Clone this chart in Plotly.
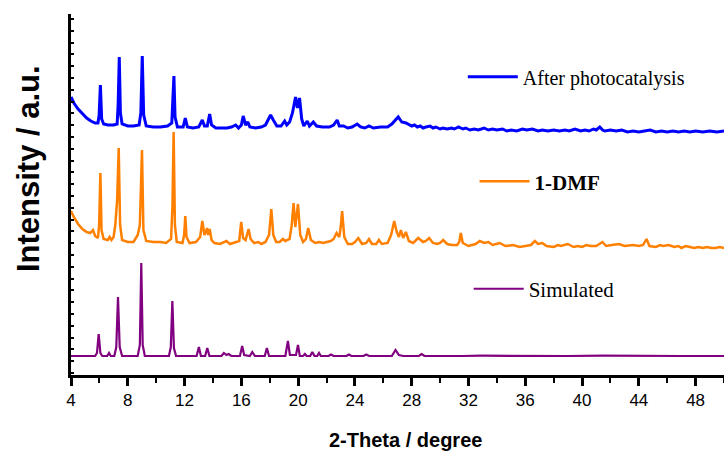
import plotly.graph_objects as go

# 2-theta (degree) / intensity (a.u., stacked) for each powder pattern
after_tt = [4.00, 4.2, 4.5, 4.8, 5.1, 5.4, 5.7, 5.9, 5.98, 6.07, 6.16, 6.3, 6.6, 7.0, 7.25, 7.32, 7.40, 7.48,
            7.6, 8.0, 8.4, 8.8, 8.92, 9.02, 9.12, 9.3, 9.8, 10.3, 10.8, 11.1, 11.17, 11.25, 11.33, 11.5,
            11.9, 12.05, 12.2, 12.6, 13.0, 13.25, 13.4, 13.6, 13.77, 13.9, 14.2, 14.6, 15.0, 15.3, 15.6,
            15.8, 16.0, 16.13, 16.3, 16.46, 16.6, 17.0, 17.4, 17.7, 17.9, 18.06, 18.25, 18.5, 18.8, 19.05,
            19.2, 19.4, 19.6, 19.82, 19.95, 20.1, 20.25, 20.4, 20.64, 20.8, 21.07, 21.3, 21.7, 22.2, 22.5,
            22.75, 22.9, 23.2, 23.5, 23.8, 24.16, 24.4, 24.7, 24.99, 25.3, 25.8, 26.3, 26.6, 27.05, 27.3,
            27.6, 28.0, 28.2, 28.4, 28.6, 28.8, 29.0, 29.3, 29.5, 29.7, 30.0, 30.2, 30.5, 30.8, 31.0,
            31.3, 31.6, 31.8, 32.1, 32.4, 32.7, 33.1, 33.4, 33.7, 34.0, 34.4, 34.7, 35.0, 35.4, 35.8,
            36.1, 36.5, 36.9, 37.2, 37.6, 38.0, 38.4, 38.8, 39.1, 39.5, 39.9, 40.2, 40.5, 40.8, 41.0,
            41.25, 41.45, 41.6, 42.0, 42.4, 42.8, 43.2, 43.6, 44.0, 44.4, 44.8, 45.2, 45.6, 46.0, 46.4,
            46.8, 47.2, 47.6, 48.0, 48.5, 49.0, 49.5, 50.0]
after_int = [278, 272, 266, 261, 257, 254, 252, 252, 260, 290, 256, 251, 250, 250, 251, 270, 318, 262,
             251, 249, 249, 250, 262, 319, 260, 249, 248, 248, 249, 252, 270, 299, 258, 248,
             248, 257, 248, 247, 248, 255, 249, 249, 261, 250, 247, 247, 247, 248, 250,
             247, 250, 259, 250, 253, 248, 247, 248, 250, 256, 260, 255, 249, 249, 254,
             250, 253, 262, 278, 267, 277, 256, 249, 254, 249, 253, 249, 248, 248, 250,
             255, 249, 249, 247, 248, 251, 248, 247, 249, 247, 248, 248, 251, 258, 253,
             252, 249, 250, 248, 249, 247, 248, 249, 247, 248, 246, 247, 246, 247, 246,
             248, 246, 247, 245, 246, 245, 247, 245, 246, 245, 246, 244, 245, 244, 246,
             245, 246, 244, 245, 244, 245, 244, 245, 244, 246, 244, 245, 244, 246, 245,
             248, 245, 244, 245, 244, 245, 243, 244, 243, 244, 245, 243, 244, 243, 244,
             243, 244, 243, 244, 243, 244, 243, 244]

dmf_tt = [4.00, 4.2, 4.5, 4.8, 5.1, 5.35, 5.55, 5.7, 5.9, 5.98, 6.07, 6.15, 6.3, 6.6, 6.72, 6.85, 7.0,
          7.12, 7.25, 7.36, 7.46, 7.6, 8.0, 8.4, 8.7, 8.85, 9.0, 9.1, 9.3, 9.8, 10.3, 10.7, 11.05, 11.15,
          11.23, 11.32, 11.45, 11.85, 11.97, 12.05, 12.14, 12.35, 12.8, 13.1, 13.25, 13.4, 13.5, 13.58,
          13.67, 13.77, 13.9, 14.1, 14.5, 14.95, 15.2, 15.65, 15.85, 15.99, 16.12, 16.3, 16.51, 16.65,
          16.9, 17.2, 17.4, 17.7, 17.95, 18.11, 18.25, 18.45, 18.7, 18.93, 19.1, 19.4, 19.55, 19.68,
          19.8, 19.99, 20.15, 20.35, 20.55, 20.71, 20.9, 21.2, 21.5, 21.75, 22.0, 22.3, 22.5, 22.71,
          22.9, 23.0, 23.1, 23.25, 23.5, 23.8, 24.0, 24.24, 24.5, 24.8, 24.99, 25.2, 25.5, 25.69, 25.9,
          26.3, 26.55, 26.77, 26.95, 27.1, 27.24, 27.4, 27.59, 27.8, 28.1, 28.46, 28.8, 29.0, 29.23,
          29.5, 29.8, 30.0, 30.22, 30.5, 30.8, 31.2, 31.35, 31.46, 31.6, 32.0, 32.5, 32.8, 33.1, 33.4,
          33.7, 34.2, 34.6, 35.15, 35.6, 36.0, 36.4, 36.68, 36.9, 37.2, 37.5, 38.0, 38.3, 38.5, 39.0, 39.4,
          39.7, 40.0, 40.3, 40.6, 41.0, 41.44, 41.7, 42.1, 42.6, 43.0, 43.6, 44.0, 44.3, 44.54, 44.75, 45.2,
          45.5, 45.7, 46.1, 46.5, 46.8, 47.0, 47.3, 47.6, 47.9, 48.2, 48.5, 48.8, 49.1, 49.4, 49.7, 50.0]
dmf_int = [164, 158, 151, 146, 143, 142, 145, 139, 137, 150, 202, 145, 136, 135, 138, 135, 138,
           150, 175, 227, 150, 135, 133, 133, 140, 150, 225, 145, 134, 133, 133, 132, 136, 170,
           243, 150, 133, 132, 140, 159, 138, 132, 133, 138, 154, 140, 143, 147,
           140, 146, 135, 132, 131, 134, 131, 133, 134, 153, 137, 135, 146, 136,
           132, 133, 131, 133, 140, 166, 140, 133, 133, 136, 134, 136, 150, 172,
           148, 171, 140, 133, 136, 147, 135, 132, 133, 132, 133, 134, 136, 142,
           138, 148, 164, 138, 131, 131, 133, 137, 131, 132, 136, 131, 131, 135, 131,
           132, 140, 154, 143, 138, 145, 137, 143, 134, 132, 137, 133, 134, 137,
           132, 131, 132, 135, 131, 130, 130, 133, 142, 132, 129, 131, 134, 132, 133,
           130, 132, 129, 130, 128, 129, 130, 134, 131, 132, 129, 128, 130, 129, 131, 128,
           129, 128, 130, 129, 129, 133, 129, 130, 131, 129, 130, 129, 130, 136, 129, 128,
           130, 129, 130, 128, 129, 127, 129, 128, 127, 128, 127, 128, 127, 127, 128, 127]

sim_tt = [4.0, 5.7, 5.83, 5.95, 6.07, 6.2, 6.55, 6.68, 6.8, 7.05, 7.19, 7.31, 7.43, 7.6, 8.7, 8.85,
          8.95, 9.05, 9.2, 10.9, 11.03, 11.14, 11.25, 11.4, 12.85, 13.01, 13.15, 13.45, 13.6, 13.75,
          14.6, 14.77, 14.95, 15.1, 15.3, 15.9, 16.06, 16.2, 16.6, 16.77, 16.95, 17.65, 17.8, 17.95,
          19.1, 19.28, 19.42, 19.85, 19.99, 20.12, 20.35, 20.48, 20.6, 20.85, 21.0, 21.15, 21.35,
          21.47, 21.6, 22.15, 22.31, 22.5, 23.4, 23.58, 23.75, 24.6, 24.8, 25.0, 26.6, 26.86, 27.1,
          27.4, 28.5, 28.7, 28.9, 30.0, 31.5, 33.0, 35.0, 37.0, 39.0, 41.5, 44.5, 47.0, 50.0]
sim_int = [19, 19, 22, 41, 22, 19, 19, 22, 19, 19, 28, 78, 28, 19, 19, 30,
           112, 30, 19, 19, 28, 74, 27, 19, 19, 28, 19, 19, 27, 19,
           19, 22, 20, 21, 19, 19, 29, 20, 19, 23, 19, 19, 27, 19,
           19, 34, 20, 20, 30, 19, 19, 21, 19, 19, 23, 19, 19,
           22, 19, 19, 20.5, 19, 19, 20.5, 19, 19, 20.5, 19, 19, 25, 20,
           19, 19, 21, 19, 19.3, 19, 19.3, 19, 19.3, 19, 19.3, 19.5, 19, 19]

x_ticks = [4, 8, 12, 16, 20, 24, 28, 32, 36, 40, 44, 48]

fig = go.Figure()
fig.add_trace(go.Scatter(x=after_tt, y=after_int, mode="lines", name="After photocatalysis",
                         line=dict(color="#0000FF", width=3), legend="legend"))
fig.add_trace(go.Scatter(x=dmf_tt, y=dmf_int, mode="lines", name="1-DMF",
                         line=dict(color="#FF8000", width=2.5), legend="legend2"))
fig.add_trace(go.Scatter(x=sim_tt, y=sim_int, mode="lines", name="Simulated",
                         line=dict(color="#800080", width=2.2), legend="legend3"))

serif = "Liberation Serif, Times New Roman, serif"
sans = "Liberation Sans, Arial, sans-serif"
legend_common = dict(xanchor="left", yanchor="middle", bgcolor="rgba(0,0,0,0)",
                     borderwidth=0, itemwidth=50)

fig.update_layout(
    width=724, height=460,
    margin=dict(l=71, r=0, t=14, b=85),
    paper_bgcolor="white", plot_bgcolor="white",
    showlegend=True,
    legend=dict(x=0.600, y=0.826, font=dict(family=serif, size=20, color="black"), **legend_common),
    legend2=dict(x=0.618, y=0.5355, font=dict(family=serif, size=21, color="black", weight="bold"),
                 **legend_common),
    legend3=dict(x=0.609, y=0.238, font=dict(family=serif, size=21, color="black"), **legend_common),
    xaxis=dict(range=[4, 50], tickvals=x_ticks, ticks="outside", ticklen=8, tickwidth=2.5,
               tickcolor="black", showline=True, linewidth=3, linecolor="black",
               showgrid=False, zeroline=False,
               tickfont=dict(family=sans, size=17, color="black"),
               minor=dict(dtick=2, tick0=4, ticks="outside", ticklen=5, tickwidth=2,
                          tickcolor="black")),
    yaxis=dict(range=[0, 361], showticklabels=False, ticks="inside", ticklen=3, tickwidth=2,
               tickcolor="black", tick0=2, dtick=11.8, showline=True, linewidth=3,
               linecolor="black", showgrid=False, zeroline=False),
    annotations=[
        dict(text="2-Theta / degree", xref="paper", yref="paper", x=0.513, y=-0.18,
             xanchor="center", yanchor="middle", showarrow=False,
             font=dict(family=sans, size=20, color="black", weight="bold")),
        dict(text="Intensity / a.u.", xref="paper", yref="paper", x=-0.066, y=0.573,
             xanchor="center", yanchor="middle", textangle=-90, showarrow=False,
             font=dict(family=sans, size=31, color="black", weight="bold")),
    ],
)

fig.write_html("out.html")
